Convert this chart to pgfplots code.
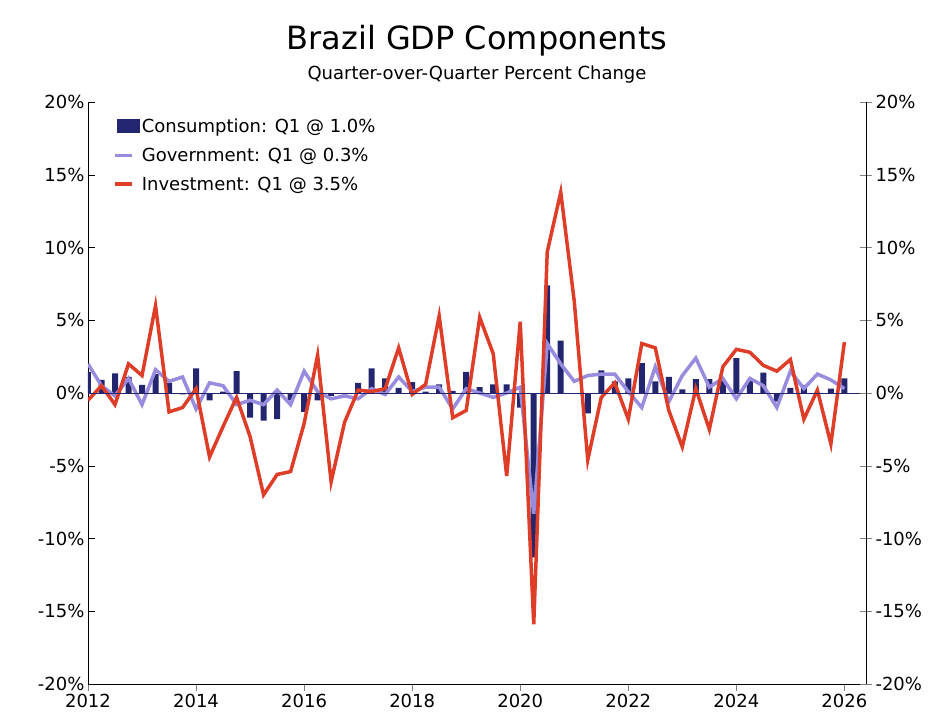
\documentclass[border=0pt]{standalone}
\usepackage{pgfplots}
\pgfplotsset{compat=1.18}
\usepackage{fontspec}
\setmainfont{DejaVu Sans}
\definecolor{cons}{RGB}{35,38,110}
\definecolor{gov}{RGB}{152,140,222}
\definecolor{inv}{RGB}{222,62,40}
\pgfplotstableread{
x c g i
2012.00 1.45 2.0 -0.5
2012.25 0.9 0.5 0.5
2012.50 1.35 -0.2 -0.8
2012.75 1.1 1.0 2.0
2013.00 0.55 -0.8 1.2
2013.25 1.3 1.6 6.0
2013.50 0.7 0.8 -1.3
2013.75 -0.1 1.1 -1.0
2014.00 1.7 -1.1 0.3
2014.25 -0.5 0.7 -4.4
2014.50 0.1 0.5 -2.3
2014.75 1.5 -0.8 -0.3
2015.00 -1.7 -0.5 -3.0
2015.25 -1.9 -0.8 -7.0
2015.50 -1.8 0.2 -5.6
2015.75 -0.5 -0.8 -5.4
2016.00 -1.3 1.5 -2.1
2016.25 -0.5 0.1 2.6
2016.50 -0.2 -0.4 -6.1
2016.75 -0.1 -0.2 -2.0
2017.00 0.7 -0.4 0.2
2017.25 1.7 0.3 0.1
2017.50 1.0 -0.1 0.3
2017.75 0.35 1.1 3.1
2018.00 0.75 0.1 -0.1
2018.25 0.1 0.4 0.6
2018.50 0.6 0.4 5.3
2018.75 0.15 -1.1 -1.7
2019.00 1.45 0.3 -1.2
2019.25 0.4 0.0 5.2
2019.50 0.6 -0.3 2.7
2019.75 0.6 0.0 -5.7
2020.00 -1.0 0.4 4.9
2020.25 -11.3 -8.3 -15.9
2020.50 7.4 3.4 9.7
2020.75 3.6 2.0 13.8
2021.00 0.0 0.8 6.3
2021.25 -1.4 1.2 -4.6
2021.50 1.55 1.3 -0.3
2021.75 0.8 1.3 0.7
2022.00 1.0 0.1 -1.8
2022.25 2.05 -1.0 3.4
2022.50 0.8 1.8 3.1
2022.75 1.1 -0.6 -1.2
2023.00 0.25 1.2 -3.7
2023.25 0.95 2.4 0.3
2023.50 0.95 0.4 -2.5
2023.75 0.9 1.0 1.8
2024.00 2.4 -0.4 3.0
2024.25 0.9 1.0 2.8
2024.50 1.4 0.5 1.9
2024.75 -0.6 -1.0 1.5
2025.00 0.35 1.5 2.3
2025.25 0.55 0.3 -1.8
2025.50 0.0 1.3 0.2
2025.75 0.3 0.9 -3.5
2026.00 1.0 0.3 3.5
}\data
\begin{document}
\begin{tikzpicture}
\useasboundingbox (-88pt,-42pt) rectangle (860pt,684pt);
\pgfplotsset{every axis/.style={scale only axis, width=778pt, height=582pt,
  xmin=2012, xmax=2026.4, ymin=-20, ymax=20, ytick={-20,-15,...,20},
  tick label style={font=\fontsize{18}{21}\selectfont},
  /pgf/number format/assume math mode=true}}
\begin{axis}[axis y line*=left, axis x line*=bottom,
  xtick={2012,2014,...,2026}, xticklabel style={/pgf/number format/1000 sep={}},
  yticklabel={\pgfmathprintnumber{\tick}\%},
  ytick style={black}, tick align=inside, xtick align=outside,
  major tick length=7pt,
  legend style={draw=none, fill=none, at={(0.032,0.975)}, anchor=north west,
    font=\fontsize{18}{21}\selectfont, row sep=10pt, inner sep=0pt,
    nodes={inner xsep=2pt}},
  legend cell align=left]
\addplot[ybar, bar width=6pt, fill=cons, draw=none, area legend,
  legend image code/.code={\fill[cons] (2pt,-7pt) rectangle (25pt,7pt);}] table[x=x,y=c]{\data};
\addlegendentry{Consumption: Q1 @ 1.0\%}
\addplot[gov, line width=3.5pt, no marks] table[x=x,y=g]{\data};
\addlegendentry{Government: Q1 @ 0.3\%}
\addplot[inv, line width=3.5pt, no marks] table[x=x,y=i]{\data};
\addlegendentry{Investment: Q1 @ 3.5\%}
\draw[cons, line width=1pt] (axis cs:2012,0) -- (axis cs:2026.4,0);
\end{axis}
\begin{axis}[axis y line*=right, axis x line=none,
  yticklabel={\pgfmathprintnumber{\tick}\%}, tick align=center,
  major tick length=12pt]
\end{axis}
\node[font=\fontsize{32}{38}\selectfont] at (389pt,643pt) {Brazil GDP Components};
\node[font=\fontsize{18}{21}\selectfont] at (389pt,609pt) {Quarter-over-Quarter Percent Change};
\end{tikzpicture}
\end{document}
